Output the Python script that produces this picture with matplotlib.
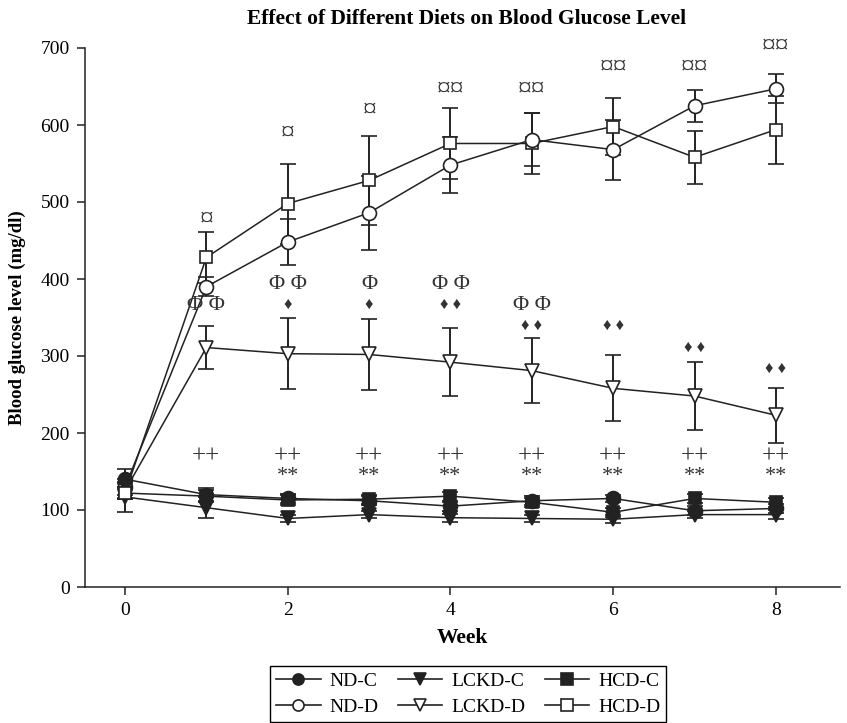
import matplotlib
matplotlib.use("Agg")
import matplotlib.pyplot as plt
from matplotlib.lines import Line2D

plt.rcParams['font.family'] = ['Liberation Serif', 'DejaVu Serif']

weeks = [0, 1, 2, 3, 4, 5, 6, 7, 8]

nd_c = [140, 120, 115, 112, 105, 112, 115, 99, 102]
nd_c_err = [13, 8, 6, 6, 6, 6, 5, 6, 6]
lckd_c = [117, 103, 89, 94, 90, 89, 88, 94, 94]
lckd_c_err = [20, 14, 5, 5, 5, 5, 5, 5, 6]
hcd_c = [122, 118, 113, 114, 118, 110, 97, 115, 110]
hcd_c_err = [8, 8, 6, 6, 6, 6, 6, 6, 6]

nd_d = [130, 390, 448, 486, 548, 581, 568, 625, 647]
nd_d_err = [10, 12, 30, 48, 36, 34, 39, 21, 19]
lckd_d = [125, 311, 303, 302, 292, 281, 258, 248, 223]
lckd_d_err = [10, 28, 46, 46, 44, 42, 43, 44, 36]
hcd_d = [122, 428, 498, 528, 576, 576, 598, 558, 594]
hcd_d_err = [8, 33, 52, 58, 46, 39, 37, 34, 44]

# significance annotations: (week, y, text)
sig_hcd_d = [(1, 478, "¤"), (2, 590, "¤"), (3, 620, "¤"), (4, 647, "¤¤"),
             (5, 647, "¤¤"), (6, 675, "¤¤"), (7, 675, "¤¤"), (8, 703, "¤¤")]
sig_phi = [(1, 365, "Φ Φ"), (2, 393, "Φ Φ"), (3, 393, "Φ"), (4, 393, "Φ Φ"),
           (5, 365, "Φ Φ")]
sig_diamond = [(2, 367, "♦"), (3, 367, "♦"), (4, 367, "♦ ♦"), (5, 339, "♦ ♦"),
               (6, 339, "♦ ♦"), (7, 311, "♦ ♦"), (8, 284, "♦ ♦")]
sig_plus = [(w, 169, "++") for w in [1, 2, 3, 4, 5, 6, 7, 8]]
sig_star = [(w, 143, "**") for w in [2, 3, 4, 5, 6, 7, 8]]

labels = ["ND-C", "ND-D", "LCKD-C", "LCKD-D", "HCD-C", "HCD-D"]

fig = plt.figure(figsize=(8.47, 7.23), dpi=100)
ax = fig.add_axes([85/847, 1-587/723, (840-85)/847, (587-48)/723])

lc = '#222222'
common = dict(color=lc, lw=1.1, capsize=6, elinewidth=1.4, capthick=1.4,
              markeredgecolor=lc, markeredgewidth=1.2)

series = [
    (hcd_d, hcd_d_err, 's', 'white', 9.2, 3),
    (nd_d, nd_d_err, 'o', 'white', 10, 3),
    (lckd_d, lckd_d_err, 'v', 'white', 10, 3),
    (lckd_c, lckd_c_err, 'v', lc, 10, 4),
    (hcd_c, hcd_c_err, 's', lc, 9.2, 4),
    (nd_c, nd_c_err, 'o', lc, 10, 4),
]
for y, e, m, fc, msz, z in series:
    ax.errorbar(weeks, y, yerr=e, fmt='-', marker=m, markerfacecolor=fc,
                ms=msz, zorder=z, **common)
# HCD-D week0 marker visible on top as in reference
ax.plot([0], [hcd_d[0]], marker='s', ms=9.2, mfc='white', mec=lc, mew=1.2, zorder=6)

ax.set_xlim(-0.4916, 8.787)
ax.set_ylim(0, 700)
ax.set_xticks([0, 2, 4, 6, 8])
ax.set_yticks([0, 100, 200, 300, 400, 500, 600, 700])
ax.spines['top'].set_visible(False)
ax.spines['right'].set_visible(False)
for s in ['left', 'bottom']:
    ax.spines[s].set_linewidth(1.1)
    ax.spines[s].set_color(lc)
ax.tick_params(direction='out', length=6, width=1.1, colors=lc, labelsize=14,
               labelcolor='black', pad=5)

ax.set_xlabel("Week", fontsize=15.5, fontweight='bold', labelpad=6)
ax.set_ylabel("Blood glucose level (mg/dl)", fontsize=13.5, fontweight='bold', labelpad=10)
fig.text(467/847, 1-19/723, "Effect of Different Diets on Blood Glucose Level",
         ha='center', va='center', fontsize=15.5, fontweight='bold')

def annotate(lst, size=12):
    for w, yv, t in lst:
        ax.text(w, yv, t, ha='center', va='center', fontsize=size, color='#333333',
                zorder=7)

annotate(sig_hcd_d, 20)
annotate(sig_phi, 16)
annotate(sig_diamond, 12)
annotate(sig_plus, 18)
annotate(sig_star, 16)

handles = []
mk = {'ND-C': ('o', lc), 'ND-D': ('o', 'white'), 'LCKD-C': ('v', lc),
      'LCKD-D': ('v', 'white'), 'HCD-C': ('s', lc), 'HCD-D': ('s', 'white')}
for lab in labels:
    m, fc = mk[lab]
    handles.append(Line2D([], [], color=lc, lw=1.2, marker=m, mfc=fc, mec=lc,
                          mew=1.2, ms=8))
leg = fig.legend(handles, labels, ncol=3, loc='center',
                 bbox_to_anchor=(468/847, 1-694/723), fontsize=14,
                 frameon=True, fancybox=False, edgecolor='black', framealpha=1,
                 handlelength=2.3, columnspacing=1.0, handletextpad=0.45,
                 borderpad=0.3, labelspacing=0.45)
leg.get_frame().set_linewidth(1.0)

fig.savefig("out.png", dpi=100)
